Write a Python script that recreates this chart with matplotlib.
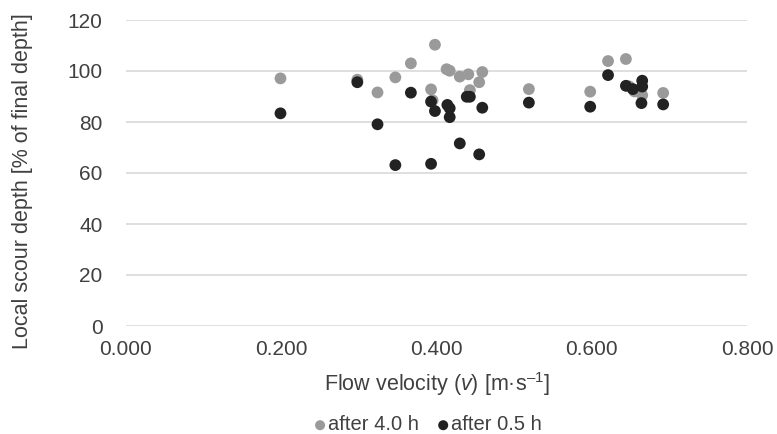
import matplotlib
matplotlib.use("Agg")
import matplotlib.pyplot as plt
from matplotlib.ticker import FormatStrFormatter

plt.rcParams['font.family'] = ['Liberation Sans', 'DejaVu Sans']
plt.rcParams['mathtext.fontset'] = 'custom'
plt.rcParams['mathtext.rm'] = 'Liberation Sans'
plt.rcParams['mathtext.it'] = 'Liberation Sans:italic'

# after 4.0 h (gray)
v_40 = [0.199, 0.298, 0.324, 0.347, 0.367, 0.398, 0.393, 0.395, 0.413, 0.417,
        0.430, 0.441, 0.459, 0.455, 0.443, 0.519, 0.598, 0.621, 0.644, 0.648,
        0.655, 0.665, 0.692]
d_40 = [97.1, 96.6, 91.6, 97.5, 103.0, 110.3, 92.8, 88.5, 100.7, 100.1,
        97.8, 98.7, 99.6, 95.6, 92.5, 92.9, 91.9, 103.9, 104.7, 94.0,
        92.0, 90.5, 91.4]
# after 0.5 h (black)
v_05 = [0.199, 0.298, 0.324, 0.347, 0.367, 0.393, 0.393, 0.398, 0.414, 0.417,
        0.417, 0.430, 0.439, 0.443, 0.455, 0.459, 0.519, 0.598, 0.621, 0.644,
        0.653, 0.665, 0.665, 0.664, 0.692]
d_05 = [83.4, 95.6, 79.1, 63.1, 91.5, 88.0, 63.6, 84.3, 86.7, 85.4,
        81.9, 71.6, 89.9, 89.9, 67.3, 85.6, 87.6, 86.0, 98.4, 94.2,
        92.9, 96.2, 93.9, 87.4, 86.9]

x_ticks = [0.0, 0.2, 0.4, 0.6, 0.8]
y_ticks = [0, 20, 40, 60, 80, 100, 120]

fig = plt.figure(figsize=(7.77, 4.34), dpi=100)
ax = fig.add_axes([126/777, 1-326/434, (747-126)/777, (326-20)/434])

ax.scatter(v_40, d_40, s=72, color='#9a9a9a', edgecolors='none', zorder=3, label='after 4.0 h')
ax.scatter(v_05, d_05, s=72, color='#222222', edgecolors='none', zorder=4, label='after 0.5 h')

ax.set_xlim(0, 0.8)
ax.set_ylim(0, 120)
ax.set_xticks(x_ticks)
ax.set_yticks(y_ticks)
ax.xaxis.set_major_formatter(FormatStrFormatter('%.3f'))
ax.grid(axis='y', color='#d9d9d9', linewidth=1.2)
ax.set_axisbelow(True)
for s in ax.spines.values():
    s.set_visible(False)
ax.tick_params(length=0, labelsize=15, colors='#404040')
ax.tick_params(axis='y', pad=17)
ax.tick_params(axis='x', pad=10)

ax.set_xlabel('Flow velocity ($\\mathit{v}$) [m·s$^{\\mathrm{–1}}$]', fontsize=15.5, color='#404040', labelpad=8)
ax.set_ylabel('Local scour depth [% of final depth]', fontsize=15.5, color='#404040')
ax.yaxis.set_label_coords(-0.150, 0.474)

leg = fig.legend(loc='center', bbox_to_anchor=(425/777, 1-425/434), ncol=2, frameon=False,
                 fontsize=14.5, handletextpad=-0.2, columnspacing=0.6, handlelength=1.2,
                 markerscale=0.85, labelcolor='#404040', borderpad=0)

fig.savefig('out.png', dpi=100)
